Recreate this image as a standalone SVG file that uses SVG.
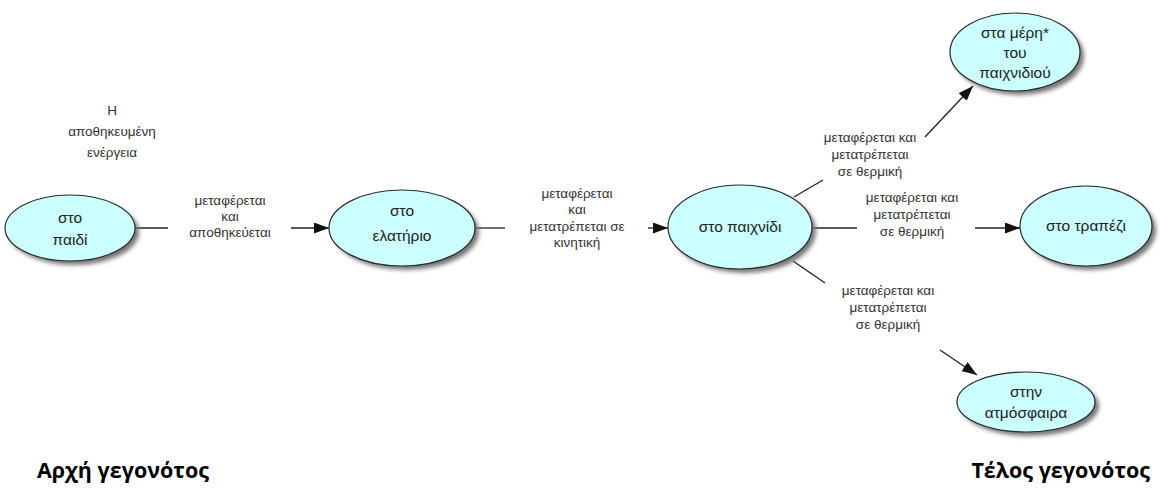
<svg xmlns="http://www.w3.org/2000/svg" width="1160" height="489" viewBox="0 0 1160 489">
<style>
.nd{fill:#ccffff;stroke:#2a2a2a;stroke-width:1.2}
.sh{fill:#777;filter:url(#blur)}
.nt{font-family:"Liberation Sans",Arial,sans-serif;font-size:15.5px;fill:#222;text-anchor:middle}
.lb{font-family:"Liberation Sans",Arial,sans-serif;font-size:13.5px;fill:#333;text-anchor:middle}
.cn{stroke:#222;stroke-width:1.3;fill:none}
.big{font-family:"Open Sans","Noto Sans",sans-serif;font-weight:bold;font-size:21.5px;fill:#000}
</style>
<defs>
<filter id="blur" x="-20%" y="-20%" width="140%" height="140%"><feGaussianBlur stdDeviation="2"/></filter>
<marker id="ah" markerWidth="15" markerHeight="11" refX="15" refY="5.5" orient="auto" markerUnits="userSpaceOnUse">
<path d="M0,0 L15,5.5 L0,11 Z" fill="#111"/>
</marker>
</defs>
<g id="connectors">
<line class="cn" x1="135" y1="228" x2="168" y2="228"/>
<line class="cn" x1="291" y1="228" x2="329" y2="228" marker-end="url(#ah)"/>
<line class="cn" x1="475" y1="228" x2="505" y2="228"/>
<line class="cn" x1="648" y1="228" x2="668" y2="228" marker-end="url(#ah)"/>
<line class="cn" x1="812" y1="228" x2="857" y2="228"/>
<line class="cn" x1="975" y1="228" x2="1020" y2="228" marker-end="url(#ah)"/>
<line class="cn" x1="794" y1="197" x2="823" y2="180"/>
<line class="cn" x1="925" y1="137" x2="973" y2="86" marker-end="url(#ah)"/>
<line class="cn" x1="793" y1="261" x2="825" y2="283"/>
<line class="cn" x1="940" y1="350" x2="977" y2="375" marker-end="url(#ah)"/>
</g>
<g id="labels">
<text class="lb" x="112" y="115">Η</text>
<text class="lb" x="112" y="136">αποθηκευμένη</text>
<text class="lb" x="112" y="157">ενέργεια</text>
<text class="lb" x="230" y="205">μεταφέρεται</text>
<text class="lb" x="230" y="221">και</text>
<text class="lb" x="230" y="237">αποθηκεύεται</text>
<text class="lb" x="577" y="198">μεταφέρεται</text>
<text class="lb" x="577" y="214">και</text>
<text class="lb" x="577" y="231">μετατρέπεται σε</text>
<text class="lb" x="577" y="247">κινητική</text>
<text class="lb" x="912" y="202">μεταφέρεται και</text>
<text class="lb" x="912" y="219">μετατρέπεται</text>
<text class="lb" x="912" y="236">σε θερμική</text>
<text class="lb" x="870" y="142">μεταφέρεται και</text>
<text class="lb" x="870" y="159">μετατρέπεται</text>
<text class="lb" x="870" y="176">σε θερμική</text>
<text class="lb" x="888" y="295">μεταφέρεται και</text>
<text class="lb" x="888" y="312">μετατρέπεται</text>
<text class="lb" x="888" y="329">σε θερμική</text>
<text class="big" x="37" y="478">Αρχή γεγονότος</text>
<text class="big" x="1150" y="478" text-anchor="end">Τέλος γεγονότος</text>
</g>
<g id="n1">
<ellipse class="sh" cx="74" cy="232" rx="65" ry="33"/>
<ellipse class="nd" cx="70" cy="228" rx="65" ry="33"/>
<text class="nt" x="70" y="223">στο</text>
<text class="nt" x="70" y="245">παιδί</text>
</g>
<g id="n2">
<ellipse class="sh" cx="406" cy="232" rx="73" ry="38"/>
<ellipse class="nd" cx="402" cy="228" rx="73" ry="38"/>
<text class="nt" x="402" y="216">στο</text>
<text class="nt" x="402" y="241">ελατήριο</text>
</g>
<g id="n3">
<ellipse class="sh" cx="744" cy="231" rx="72" ry="42"/>
<ellipse class="nd" cx="740" cy="227" rx="72" ry="42"/>
<text class="nt" x="740" y="232">στο παιχνίδι</text>
</g>
<g id="n4">
<ellipse class="sh" cx="1090" cy="230" rx="66" ry="40"/>
<ellipse class="nd" cx="1086" cy="226" rx="66" ry="40"/>
<text class="nt" x="1086" y="231">στο τραπέζι</text>
</g>
<g id="n5">
<ellipse class="sh" cx="1019" cy="56" rx="65" ry="39"/>
<ellipse class="nd" cx="1015" cy="52" rx="65" ry="39"/>
<text class="nt" x="1015" y="38">στα μέρη*</text>
<text class="nt" x="1015" y="58">του</text>
<text class="nt" x="1015" y="78">παιχνιδιού</text>
</g>
<g id="n6">
<ellipse class="sh" cx="1030" cy="406" rx="69" ry="30"/>
<ellipse class="nd" cx="1026" cy="402" rx="69" ry="30"/>
<text class="nt" x="1026" y="397">στην</text>
<text class="nt" x="1026" y="418">ατμόσφαιρα</text>
</g>
</svg>
